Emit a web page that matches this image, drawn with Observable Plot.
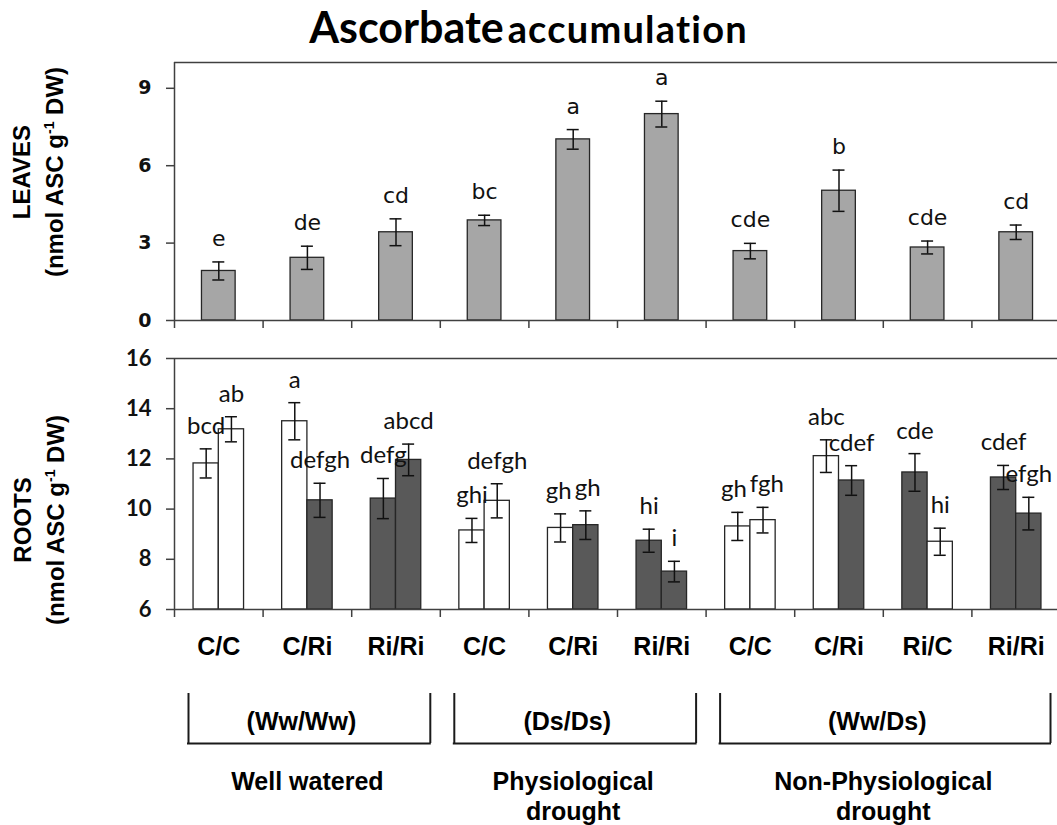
<!DOCTYPE html>
<html>
<head>
<meta charset="utf-8">
<script src="https://cdn.jsdelivr.net/npm/d3@7"></script>
<script src="https://cdn.jsdelivr.net/npm/@observablehq/plot@0.6"></script>
<style>
  html, body { margin: 0; padding: 0; background: #fff; overflow: hidden; width: 1057px; height: 825px; }
  #wrap { position: relative; width: 1057px; height: 825px; overflow: hidden; color: #000; }
  #wrap svg { position: absolute; left: 0; max-width: none !important; overflow: visible; background: transparent !important; }
  #title { position: absolute; left: 0; top: 2px; width: 1057px; text-align: center; font-family: Lato, sans-serif; font-weight: bold; line-height: 50px; white-space: nowrap; }
  #title .big { font-size: 43px; }
  #title .small { font-size: 38px; letter-spacing: 1.2px; }
  .ytitle { position: absolute; transform: translate(-50%, -50%) rotate(-90deg); font-family: "Liberation Sans", Arial, sans-serif; font-weight: bold; font-size: 24px; line-height: 33px; text-align: center; white-space: nowrap; }
  .ytitle sup { font-size: 14px; line-height: 0; vertical-align: 9px; }
</style>
</head>
<body>
<div id="wrap">
  <div id="title"><span class="big">Ascorbate</span> <span class="small">accumulation</span></div>
  <div class="ytitle" style="left:38px; top:172px;">LEAVES<br>(nmol ASC g<sup>-1</sup> DW)</div>
  <div class="ytitle" style="left:39px; top:520px;">ROOTS<br>(nmol ASC g<sup>-1</sup> DW)</div>
</div>
<script>
// ---------------- data ----------------
const categories = ["C/C", "C/Ri", "Ri/Ri", "C/C", "C/Ri", "Ri/Ri", "C/C", "C/Ri", "Ri/C", "Ri/Ri"];

const leafValues  = [1.92, 2.43, 3.42, 3.88, 7.02, 8.00, 2.69, 5.03, 2.83, 3.42];
const leafErrors  = [0.35, 0.45, 0.52, 0.20, 0.38, 0.50, 0.30, 0.80, 0.25, 0.28];
const leafLetters = ["e", "de", "cd", "bc", "a", "a", "cde", "b", "cde", "cd"];
const leafTicks   = [0, 3, 6, 9];
const leafDomain  = [0, 10];

const rootFirstValues   = [11.82, 13.50, 10.42, 9.15, 9.25, 8.74, 9.31, 12.11, 11.46, 11.26];
const rootFirstErrors   = [0.58, 0.74, 0.80, 0.48, 0.56, 0.46, 0.56, 0.65, 0.75, 0.48];
const rootFirstLetters  = ["bcd", "a", "defg", "ghi", "gh", "hi", "gh", "abc", "cde", "cdef"];
const rootSecondValues  = [13.18, 10.35, 11.96, 10.33, 9.36, 7.51, 9.56, 11.14, 8.70, 9.82];
const rootSecondErrors  = [0.50, 0.68, 0.63, 0.68, 0.57, 0.41, 0.51, 0.59, 0.54, 0.65];
const rootSecondLetters = ["ab", "defgh", "abcd", "defgh", "gh", "i", "fgh", "cdef", "hi", "efgh"];
const rootTicks  = [6, 8, 10, 12, 14, 16];
const rootDomain = [6, 16];

const groupConditions = ["(Ww/Ww)", "(Ds/Ds)", "(Ww/Ds)"];
const groupNames      = ["Well watered", "Physiological\ndrought", "Non-Physiological\ndrought"];
const groupSizes      = [3, 3, 4];

// ---------------- layout constants ----------------
const W = 1060, ML = 174;
const xDomain = [0, categories.length];
const boundaries = d3.range(categories.length + 1);
const axisColor = "#404040";
const svgStyle = {maxWidth: "none", overflow: "visible", background: "transparent", fontFamily: "Liberation Sans, sans-serif", color: "#000"};
const leafHalf = 0.19;      // half bar width (x units)
const rootBar = 0.285;      // bar width (x units)
const cx = d => d.i + 0.5;
const rx = d => d.i + 0.5 + (d.half === 0 ? -rootBar / 2 : rootBar / 2);
const errStyle = {stroke: "#111", strokeWidth: 1.5};
const rootLetterFont = {family: "Lato", size: 24};
const rootLetterDy = -15;
const root = {height: 343, top: 26, bottom: 66};

// ---------------- tables ----------------
const leaves = categories.map((c, i) => ({i, value: leafValues[i], err: leafErrors[i], letter: leafLetters[i]}));
const roots = [];
categories.forEach((c, i) => {
  const parts = c.split("/");
  roots.push({i, half: 0, status: parts[0], value: rootFirstValues[i], err: rootFirstErrors[i], letter: rootFirstLetters[i]});
  roots.push({i, half: 1, status: parts[1], value: rootSecondValues[i], err: rootSecondErrors[i], letter: rootSecondLetters[i]});
});
let acc = 0;
const groups = groupSizes.map((n, k) => { const g = {start: acc, end: acc + n, cond: groupConditions[k], name: groupNames[k]}; acc += n; return g; });

// label collision avoidance within each pair (push apart horizontally)
const sx = Plot.scale({x: {domain: xDomain, range: [ML, W]}});
const sy = Plot.scale({y: {domain: rootDomain, range: [root.height - root.bottom, root.top]}});
const ctx = document.createElement("canvas").getContext("2d");
ctx.font = `${rootLetterFont.size}px ${rootLetterFont.family}`;
roots.forEach(d => { d.px = sx.apply(rx(d)); d.py = sy.apply(d.value + d.err) + rootLetterDy; d.w = ctx.measureText(d.letter).width; });
for (let i = 0; i < categories.length; i++) {
  const a = roots[2 * i], b = roots[2 * i + 1];
  if (Math.abs(a.py - b.py) < 22) {
    const need = (a.w + b.w) / 2 + 3 - (b.px - a.px);
    if (need > 0) { a.px -= need / 2; b.px += need / 2; }
  }
}
roots.forEach(d => { d.labelX = sx.invert(d.px); });

// ---------------- charts ----------------
const leafPlot = Plot.plot({
  width: W, height: 282, marginLeft: ML, marginRight: 0, marginTop: 12, marginBottom: 12,
  style: svgStyle,
  x: {domain: xDomain},
  y: {domain: leafDomain},
  marks: [
    Plot.rect(leaves, {x1: d => cx(d) - leafHalf, x2: d => cx(d) + leafHalf, y1: leafDomain[0], y2: "value", fill: "#a6a6a6", stroke: "#262626", strokeWidth: 1.3}),
    Plot.ruleX(leaves, {x: cx, y1: d => d.value - d.err, y2: d => d.value + d.err, ...errStyle}),
    Plot.ruleY(leaves, {x1: cx, x2: cx, y: d => d.value + d.err, insetLeft: -6, insetRight: -6, ...errStyle}),
    Plot.ruleY(leaves, {x1: cx, x2: cx, y: d => d.value - d.err, insetLeft: -6, insetRight: -6, ...errStyle}),
    Plot.text(leaves, {x: cx, y: d => d.value + d.err, text: "letter", dy: -16, lineAnchor: "bottom", fontFamily: "DejaVu Sans", fontSize: 22, fill: "#111"}),
    Plot.ruleY([leafDomain[1]], {stroke: axisColor, strokeWidth: 1.5}),
    Plot.ruleY([leafDomain[0]], {stroke: axisColor, strokeWidth: 1.5}),
    Plot.ruleX([xDomain[0]], {stroke: axisColor, strokeWidth: 1.5}),
    Plot.axisY({ticks: leafTicks, tickSize: 8, tickPadding: 15, label: null, stroke: axisColor, strokeWidth: 1.5, fontFamily: "DejaVu Sans", fontWeight: "bold", fontSize: 19, fill: "#111"}),
    Plot.axisX({ticks: boundaries, tickSize: 8, tickFormat: () => "", label: null, stroke: axisColor, strokeWidth: 1.5})
  ]
});
leafPlot.style.top = "50px";

const rootPlot = Plot.plot({
  width: W, height: root.height, marginLeft: ML, marginRight: 0, marginTop: root.top, marginBottom: root.bottom,
  style: svgStyle,
  x: {domain: xDomain},
  y: {domain: rootDomain},
  marks: [
    Plot.rect(roots, {x1: d => rx(d) - rootBar / 2, x2: d => rx(d) + rootBar / 2, y1: rootDomain[0], y2: "value", fill: d => d.status === "C" ? "#ffffff" : "#595959", stroke: "#262626", strokeWidth: 1.3}),
    Plot.ruleX(roots, {x: rx, y1: d => d.value - d.err, y2: d => d.value + d.err, ...errStyle}),
    Plot.ruleY(roots, {x1: rx, x2: rx, y: d => d.value + d.err, insetLeft: -6, insetRight: -6, ...errStyle}),
    Plot.ruleY(roots, {x1: rx, x2: rx, y: d => d.value - d.err, insetLeft: -6, insetRight: -6, ...errStyle}),
    Plot.text(roots, {x: "labelX", y: d => d.value + d.err, text: "letter", dy: rootLetterDy, lineAnchor: "bottom", fontFamily: rootLetterFont.family, fontSize: rootLetterFont.size, fill: "#111"}),
    Plot.ruleY([rootDomain[1]], {stroke: axisColor, strokeWidth: 1.5}),
    Plot.ruleY([rootDomain[0]], {stroke: axisColor, strokeWidth: 1.5}),
    Plot.ruleX([xDomain[0]], {stroke: axisColor, strokeWidth: 1.5}),
    Plot.axisY({ticks: rootTicks, tickSize: 8, tickPadding: 15, label: null, stroke: axisColor, strokeWidth: 1.5, fontFamily: "Lato", fontWeight: "bold", fontSize: 22, fill: "#111"}),
    Plot.axisX({ticks: boundaries, tickSize: 8, tickFormat: () => "", label: null, stroke: axisColor, strokeWidth: 1.5}),
    Plot.text(categories, {x: (d, i) => i + 0.5, frameAnchor: "bottom", lineAnchor: "top", dy: 28, fontFamily: "Liberation Sans", fontWeight: "bold", fontSize: 25, fill: "#000"})
  ]
});
rootPlot.style.top = "332px";

const bracketPlot = Plot.plot({
  width: W, height: 150, marginLeft: ML, marginRight: 0, marginTop: 18, marginBottom: 82,
  style: svgStyle,
  x: {domain: xDomain, axis: null},
  y: {domain: [0, 1], axis: null},
  marks: [
    Plot.ruleX(groups, {x: "start", dx: 14, stroke: "#1a1a1a", strokeWidth: 2}),
    Plot.ruleX(groups, {x: "end", dx: -10, stroke: "#1a1a1a", strokeWidth: 2}),
    Plot.ruleY(groups, {x1: "start", x2: "end", y: 0, insetLeft: 13, insetRight: 9, stroke: "#1a1a1a", strokeWidth: 2}),
    Plot.text(groups, {x: d => (d.start + d.end) / 2, text: "cond", lineAnchor: "middle", dy: 3, dx: -6, fontFamily: "Liberation Sans", fontWeight: "bold", fontSize: 25, fill: "#000"}),
    Plot.text(groups, {x: d => (d.start + d.end) / 2, text: "name", frameAnchor: "bottom", lineAnchor: "top", dy: 25, lineHeight: 1.2, fontFamily: "Liberation Sans", fontWeight: "bold", fontSize: 25, fill: "#000"})
  ]
});
bracketPlot.style.top = "675px";

const wrap = document.getElementById("wrap");
wrap.appendChild(leafPlot);
wrap.appendChild(rootPlot);
wrap.appendChild(bracketPlot);
</script>
</body>
</html>
